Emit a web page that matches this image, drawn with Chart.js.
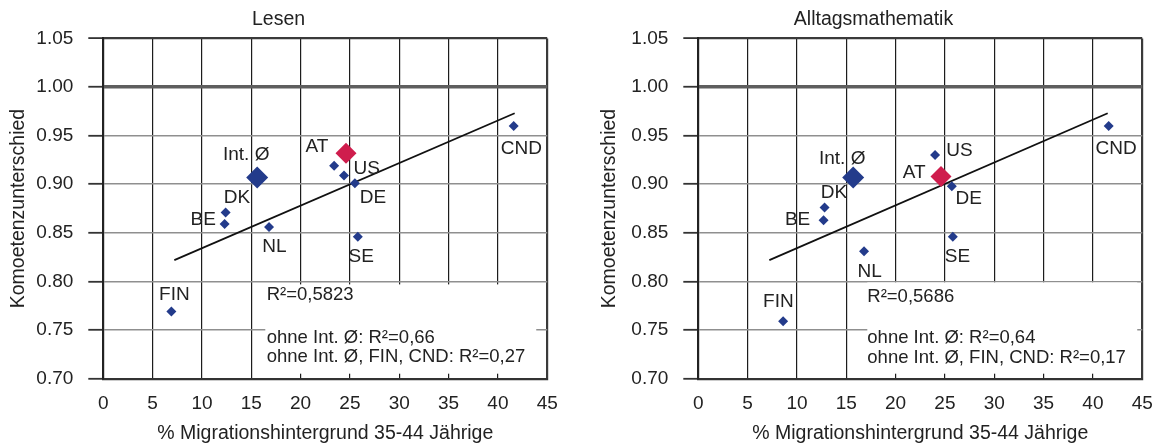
<!DOCTYPE html>
<html><head><meta charset="utf-8">
<script src="https://cdn.jsdelivr.net/npm/chart.js@4.4.1/dist/chart.umd.min.js"></script>
<style>
html,body{margin:0;padding:0;background:#fff;width:1166px;height:445px;overflow:hidden}
canvas{position:absolute;top:0}
</style></head><body>
<canvas id="c1" width="571" height="445" style="left:0px"></canvas>
<canvas id="c2" width="571" height="445" style="left:595px"></canvas>
<script>
// ---------- data ----------
const countries = ['FIN', 'BE', 'DK', 'NL', 'US', 'DE', 'SE', 'CND'];
const xTicks = [0, 5, 10, 15, 20, 25, 30, 35, 40, 45];
const yTicks = [0.70, 0.75, 0.80, 0.85, 0.90, 0.95, 1.00, 1.05];

// Lesen
const lesenX = [6.9, 12.3, 12.4, 16.8, 24.4, 25.5, 25.8, 41.6];
const lesenY = [0.769, 0.859, 0.871, 0.856, 0.909, 0.901, 0.846, 0.960];
const lesenOtherX = [23.4];
const lesenOtherY = [0.919];
const lesenIntX = [15.6];
const lesenIntY = [0.907];
const lesenAtX = [24.6];
const lesenAtY = [0.932];
const lesenTrendX = [7.2, 41.7];
const lesenTrendY = [0.822, 0.973];
const lesenNotes = ['R²=0,5823', 'ohne Int. Ø: R²=0,66', 'ohne Int. Ø, FIN, CND: R²=0,27'];

// Alltagsmathematik
const mathX = [8.6, 12.7, 12.8, 16.8, 24.0, 25.7, 25.8, 41.6];
const mathY = [0.759, 0.863, 0.876, 0.831, 0.930, 0.898, 0.846, 0.960];
const mathOtherX = [];
const mathOtherY = [];
const mathIntX = [15.7];
const mathIntY = [0.907];
const mathAtX = [24.6];
const mathAtY = [0.908];
const mathTrendX = [7.2, 41.5];
const mathTrendY = [0.822, 0.973];
const mathNotes = ['R²=0,5686', 'ohne Int. Ø: R²=0,64', 'ohne Int. Ø, FIN, CND: R²=0,17'];

// ---------- styles ----------
const FONT = "'Liberation Sans', Arial, Helvetica, sans-serif";
const BLUE = '#233b8b';
const RED = '#cf1d4d';
const TXT = '#222222';
Chart.defaults.font.family = FONT;
Chart.defaults.color = TXT;

const pts = (xs, ys) => xs.map((x, i) => ({x: x, y: ys[i]}));

function makeChart(id, o) {
  const labelPlugin = {
    id: 'labels_' + id,
    beforeDatasetsDraw(chart) {
      const ctx = chart.ctx, ca = chart.chartArea;
      ctx.save();
      ctx.fillStyle = '#ffffff';
      ctx.fillRect(ca.left + o.box[0], ca.top + o.box[1], ca.right - o.box[2] - (ca.left + o.box[0]), ca.bottom - o.box[3] - (ca.top + o.box[1]));
      ctx.restore();
    },
    afterDatasetsDraw(chart) {
      const ctx = chart.ctx, xs = chart.scales.x, ys = chart.scales.y, ca = chart.chartArea;
      ctx.save();
      ctx.fillStyle = TXT;
      ctx.font = '19px ' + FONT;
      ctx.textAlign = 'center';
      ctx.textBaseline = 'middle';
      countries.forEach((c, i) => {
        const off = o.offsets[c];
        ctx.fillText(c, xs.getPixelForValue(o.x[i]) + off[0], ys.getPixelForValue(o.y[i]) + off[1]);
      });
      ctx.fillText('Int. Ø', xs.getPixelForValue(o.intX[0]) + o.offsets.INT[0], ys.getPixelForValue(o.intY[0]) + o.offsets.INT[1]);
      ctx.fillText('AT', xs.getPixelForValue(o.atX[0]) + o.offsets.AT[0], ys.getPixelForValue(o.atY[0]) + o.offsets.AT[1]);
      ctx.font = '18.5px ' + FONT;
      ctx.textAlign = 'left';
      o.notes.forEach((t, i) => {
        ctx.fillText(t, ca.left + o.noteX, o.noteY[i]);
      });
      ctx.restore();
    }
  };

  return new Chart(document.getElementById(id), {
    type: 'scatter',
    data: {
      datasets: [
        {data: pts(o.trendX, o.trendY), showLine: true, borderColor: '#111', borderWidth: 1.8, pointRadius: 0, order: 4},
        {data: pts(o.x, o.y), pointStyle: 'rectRot', pointRadius: 5, backgroundColor: BLUE, borderColor: BLUE, borderWidth: 0, order: 3},
        {data: pts(o.otherX, o.otherY), pointStyle: 'rectRot', pointRadius: 5, backgroundColor: BLUE, borderColor: BLUE, borderWidth: 0, order: 3},
        {data: pts(o.intX, o.intY), pointStyle: 'rectRot', pointRadius: 11, backgroundColor: BLUE, borderColor: BLUE, borderWidth: 0, order: 2},
        {data: pts(o.atX, o.atY), pointStyle: 'rectRot', pointRadius: 10.5, backgroundColor: RED, borderColor: RED, borderWidth: 0, order: 1}
      ]
    },
    options: {
      responsive: false,
      animation: false,
      events: [],
      layout: {padding: {left: 0, right: 14, top: 0, bottom: 0}},
      plugins: {
        legend: {display: false},
        tooltip: {enabled: false},
        title: {display: true, text: o.title, color: TXT, font: {size: 19.5, weight: 'normal'}, padding: {top: 8, bottom: 7}}
      },
      scales: {
        x: {
          type: 'linear', min: xTicks[0], max: xTicks[xTicks.length - 1],
          afterBuildTicks: (s) => { s.ticks = xTicks.map(v => ({value: v})); },
          afterFit: (s) => { s.height = 66.3; },
          ticks: {color: TXT, font: {size: 19}, padding: 13.2, maxRotation: 0, autoSkip: false},
          grid: {
            drawTicks: false,
            color: (c) => (c.tick && c.tick.value === 45) ? '#3a3a3a' : '#1c1c1c',
            lineWidth: (c) => (c.tick && c.tick.value === 45) ? 2.2 : 1.2
          },
          border: {color: '#333', width: 2.2},
          title: {display: true, text: '% Migrationshintergrund 35-44 Jährige', color: TXT, font: {size: 19.5}, padding: {top: 0, bottom: 0}}
        },
        y: {
          type: 'linear', min: yTicks[0], max: yTicks[yTicks.length - 1],
          afterBuildTicks: (s) => { s.ticks = yTicks.map(v => ({value: v})); },
          afterFit: (s) => { s.width = 103.3; },
          ticks: {color: TXT, font: {size: 19}, padding: 15, callback: (v) => Number(v).toFixed(2)},
          grid: {
            drawTicks: true, tickLength: 15,
            color: (c) => {
              const v = c.tick ? c.tick.value : 0;
              if (Math.abs(v - 1.00) < 1e-6) return '#5e5e5e';
              if (Math.abs(v - 1.05) < 1e-6) return '#3a3a3a';
              return '#8f8f8f';
            },
            lineWidth: (c) => {
              const v = c.tick ? c.tick.value : 0;
              if (Math.abs(v - 1.00) < 1e-6) return 3.5;
              if (Math.abs(v - 1.05) < 1e-6) return 2.2;
              return 1.6;
            },
            tickColor: '#333', tickWidth: 1.8
          },
          border: {color: '#222', width: 2},
          title: {display: true, text: 'Komoetenzunterschied', color: TXT, font: {size: 19.5}, padding: {top: o.yTitlePad, bottom: 0}}
        }
      }
    },
    plugins: [labelPlugin]
  });
}

makeChart('c1', {
  title: 'Lesen',
  x: lesenX, y: lesenY, otherX: lesenOtherX, otherY: lesenOtherY,
  intX: lesenIntX, intY: lesenIntY, atX: lesenAtX, atY: lesenAtY,
  trendX: lesenTrendX, trendY: lesenTrendY, notes: lesenNotes,
  yTitlePad: 7.3,
  offsets: {FIN: [3, -17], BE: [-21.5, -4.7], DK: [11.4, -15], NL: [5.3, 19.4], US: [22.7, -7], DE: [18, 14.7], SE: [3.4, 20], CND: [7.6, 22.6], INT: [-11, -23], AT: [-29, -6.6]},
  noteX: 163.4, noteY: [295, 338.3, 357.3],
  box: [162, 246, 11, 5]
});

makeChart('c2', {
  title: 'Alltagsmathematik',
  x: mathX, y: mathY, otherX: mathOtherX, otherY: mathOtherY,
  intX: mathIntX, intY: mathIntY, atX: mathAtX, atY: mathAtY,
  trendX: mathTrendX, trendY: mathTrendY, notes: mathNotes,
  yTitlePad: 3,
  offsets: {FIN: [-4.8, -19.4], BE: [-26, 0], DK: [9.3, -14.4], NL: [5.7, 20], US: [24.4, -4.6], DE: [16.8, 12.6], SE: [4.7, 20], CND: [7.4, 22.6], INT: [-11, -19], AT: [-26.7, -3.4]},
  noteX: 169, noteY: [296.7, 338.3, 358.3],
  box: [169, 244, 5, 5]
});
</script>
</body></html>
